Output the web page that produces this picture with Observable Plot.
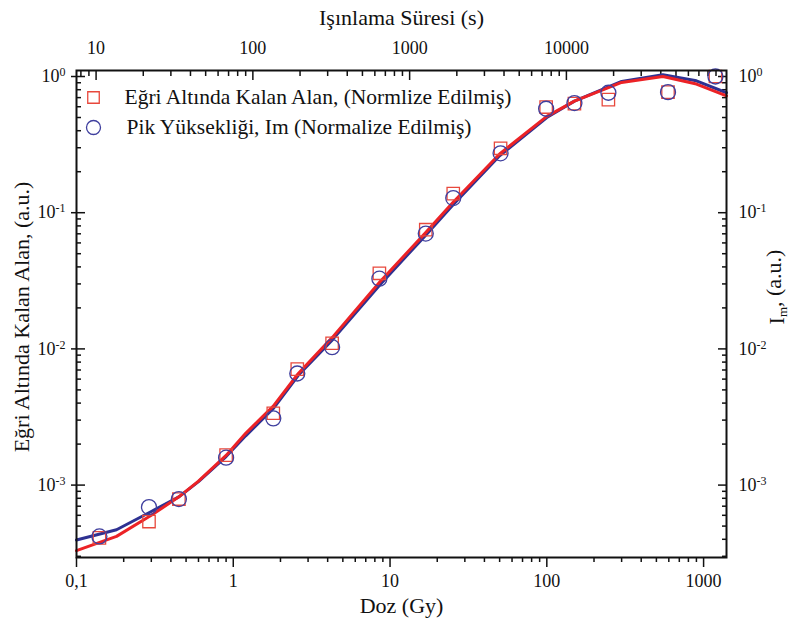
<!DOCTYPE html>
<html><head><meta charset="utf-8">
<script src="https://cdn.jsdelivr.net/npm/d3@7"></script>
<script src="https://cdn.jsdelivr.net/npm/@observablehq/plot@0.6"></script>
<style>
body{margin:0;background:#fff}
svg{display:block}
#chart svg, #chart svg text{font-family:"Liberation Serif","Times New Roman",serif !important;}
</style>
</head><body><div id="chart"></div>
<script>
// Measured points (dose in Gy)
const doses    = [0.14, 0.29, 0.45, 0.9, 1.8, 2.56, 4.27, 8.55, 16.9, 25.3, 50.7, 99, 150, 247, 593, 1190];
const areaNorm = [4.1e-4, 5.4e-4, 7.9e-4, 1.66e-3, 3.37e-3, 7.1e-3, 0.0110, 0.0359, 0.075, 0.138, 0.297, 0.597, 0.632, 0.676, 0.768, 1.0];
const peakNorm = [4.2e-4, 6.9e-4, 7.9e-4, 1.59e-3, 3.09e-3, 6.6e-3, 0.0103, 0.0328, 0.0703, 0.128, 0.273, 0.58, 0.638, 0.76, 0.768, 1.0];

// Fitted curves
const fitDose = [0.1, 0.18, 0.3, 0.45, 0.6, 0.9, 1.2, 1.8, 2.6, 4.3, 8.6, 17, 25, 50, 100, 150, 300, 550, 900, 1400];
const fitArea = [3.3e-4, 4.2e-4, 6.0e-4, 8.2e-4, 1.07e-3, 1.65e-3, 2.4e-3, 3.8e-3, 6.6e-3, 0.0122, 0.031, 0.072, 0.118, 0.27, 0.51, 0.66, 0.905, 1.0, 0.88, 0.72];
const fitPeak = [3.95e-4, 4.7e-4, 6.4e-4, 8.2e-4, 1.06e-3, 1.62e-3, 2.3e-3, 3.65e-3, 6.4e-3, 0.0117, 0.0295, 0.069, 0.113, 0.262, 0.50, 0.66, 0.92, 1.03, 0.93, 0.76];

// Axis ticks
const xTicks = [0.1, 1, 10, 100, 1000];
const xTickLabels = ["0,1", "1", "10", "100", "1000"];
const yTicks = [1e-3, 1e-2, 1e-1, 1];
const yExponents = ["-3", "-2", "-1", "0"];
const timeTicks = [10, 100, 1000, 10000];
const timeTickLabels = ["10", "100", "1000", "10000"];
const secondsPerGy = 75;

const legendLabels = ["Eğri Altında Kalan Alan, (Normlize Edilmiş)", "Pik Yüksekliği, Im (Normalize Edilmiş)"];
const xTitle = "Doz (Gy)";
const topTitle = "Işınlama Süresi (s)";
const leftTitle = "Eğri Altında Kalan Alan, (a.u.)";
const rightTitle = "I_m, (a.u.)";

const RED = "#ec2226", BLUE = "#2e3192", RED_M = "#e8483c", BLUE_M = "#3f3f9e";

const xDomain = [0.1, 1400];
const yDomain = [2.94e-4, 1.107];

const decadeMinor = (lo, hi) => {
  const out = [];
  for (let e = -4; e <= 5; e++) for (let m = 2; m <= 9; m++) {
    const v = m * Math.pow(10, e);
    if (v >= lo && v <= hi) out.push(v);
  }
  return out;
};
const xMinor = decadeMinor(xDomain[0], xDomain[1]);
const yMinor = decadeMinor(yDomain[0], yDomain[1]);
const tMinor = decadeMinor(xDomain[0] * secondsPerGy, xDomain[1] * secondsPerGy).map(t => t / secondsPerGy);
const tMajor = timeTicks.map(t => t / secondsPerGy);

const pts = doses.map((d, i) => ({dose: d, area: areaNorm[i], peak: peakNorm[i]}));
const fit = fitDose.map((d, i) => ({dose: d, area: fitArea[i], peak: fitPeak[i]}));

const FONT = "Liberation Serif";
const blank = () => "";
const chart = Plot.plot({
  width: 798, height: 623,
  marginLeft: 76, marginRight: 72, marginTop: 70, marginBottom: 66,
  x: {type: "log", domain: xDomain, label: null},
  y: {type: "log", domain: yDomain, label: null},
  style: {fontFamily: FONT, fontSize: "18px", color: "#111", background: "#fff"},
  marks: [
    // bottom axis (outward ticks)
    Plot.axisX(xMinor, {anchor: "bottom", tickSize: 5, strokeWidth: 1.5, tickFormat: blank, label: null}),
    Plot.axisX(xTicks, {anchor: "bottom", tickSize: 10, tickPadding: 7, strokeWidth: 1.5, fontSize: 18, fontFamily: FONT,
      tickFormat: d => xTickLabels[xTicks.indexOf(d)], label: null}),
    // top axis: irradiation time (inward ticks)
    Plot.axisX(tMinor, {anchor: "top", tickSize: -5, strokeWidth: 1.5, tickFormat: blank, label: null}),
    Plot.axisX(tMajor, {anchor: "top", tickSize: -9, strokeWidth: 1.5, tickFormat: blank, label: null}),
    Plot.axisX(tMajor, {anchor: "top", tickSize: 0, tickPadding: 17, fontSize: 18, fontFamily: FONT,
      tickFormat: d => timeTickLabels[tMajor.indexOf(d)], label: null}),
    // left axis
    Plot.axisY(yMinor, {anchor: "left", tickSize: -5, strokeWidth: 1.5, tickFormat: blank, label: null}),
    Plot.axisY(yTicks, {anchor: "left", tickSize: -9, strokeWidth: 1.5, tickFormat: blank, label: null}),
    Plot.axisY(yTicks, {anchor: "left", tickSize: 5, tickPadding: 6, strokeWidth: 1.5, fontSize: 18, fontFamily: FONT,
      tickFormat: d => "10^" + yExponents[yTicks.indexOf(d)], label: null}),
    // right axis
    Plot.axisY(yMinor, {anchor: "right", tickSize: -5, strokeWidth: 1.5, tickFormat: blank, label: null}),
    Plot.axisY(yTicks, {anchor: "right", tickSize: -9, strokeWidth: 1.5, tickFormat: blank, label: null}),
    Plot.axisY(yTicks, {anchor: "right", tickSize: 0, tickPadding: 12, fontSize: 18, fontFamily: FONT,
      tickFormat: d => "10^" + yExponents[yTicks.indexOf(d)], label: null}),
    // fitted curves
    Plot.line(fit, {x: "dose", y: "peak", stroke: BLUE, strokeWidth: 3}),
    Plot.line(fit, {x: "dose", y: "area", stroke: RED, strokeWidth: 3}),
    // measured points
    Plot.dot(pts, {x: "dose", y: "area", symbol: "square", r: 7, stroke: RED_M, strokeWidth: 1.3, fill: "none"}),
    Plot.dot(pts, {x: "dose", y: "peak", symbol: "circle", r: 7.5, stroke: BLUE_M, strokeWidth: 1.3, fill: "none"}),
    // legend
    Plot.dot([legendLabels[0]], {frameAnchor: "top-left", dx: 17, dy: 27, symbol: "square", r: 6.5, stroke: RED_M, strokeWidth: 1.3}),
    Plot.dot([legendLabels[1]], {frameAnchor: "top-left", dx: 17, dy: 57, symbol: "circle", r: 7, stroke: BLUE_M, strokeWidth: 1.3}),
    Plot.text([legendLabels[0]], {text: d => d, frameAnchor: "top-left", dx: 48, dy: 27, textAnchor: "start", lineAnchor: "middle", fontSize: 21.5, fontFamily: FONT, fill: "#111"}),
    Plot.text([legendLabels[1]], {text: d => d, frameAnchor: "top-left", dx: 50, dy: 57, textAnchor: "start", lineAnchor: "middle", fontSize: 21.5, fontFamily: FONT, fill: "#111"}),
    // titles
    Plot.text([topTitle], {text: d => d, frameAnchor: "top", dy: -53, textAnchor: "middle", lineAnchor: "middle", fontSize: 22, fontFamily: FONT, fill: "#111"}),
    Plot.text([xTitle], {text: d => d, frameAnchor: "bottom", dy: 48, textAnchor: "middle", lineAnchor: "middle", fontSize: 22, fontFamily: FONT, fill: "#111"}),
    Plot.text([leftTitle], {text: d => d, frameAnchor: "left", dx: -55, dy: 3, rotate: -90, textAnchor: "middle", lineAnchor: "middle", fontSize: 22, fontFamily: FONT, fill: "#111"}),
    Plot.text([rightTitle], {text: d => d, frameAnchor: "right", dx: 50, dy: -27, rotate: -90, textAnchor: "middle", lineAnchor: "middle", fontSize: 22, fontFamily: FONT, fill: "#111"}),
    Plot.frame({stroke: "#111", strokeWidth: 2})
  ]
});
document.getElementById("chart").appendChild(chart);

// superscripts / subscripts
d3.select(chart).selectAll("text").each(function() {
  const el = d3.select(this);
  const t = el.text();
  let m = /^10\^(-?\d)$/.exec(t);
  if (m) {
    el.text("10");
    el.append("tspan").attr("dy", "-0.5em").attr("font-size", "12px").text(m[1]);
    return;
  }
  if (t === rightTitle) {
    el.text("I");
    el.append("tspan").attr("dy", "0.3em").attr("font-size", "13px").text("m");
    el.append("tspan").attr("dy", "-0.3em").text(", (a.u.)");
  }
});
</script>
</body></html>
